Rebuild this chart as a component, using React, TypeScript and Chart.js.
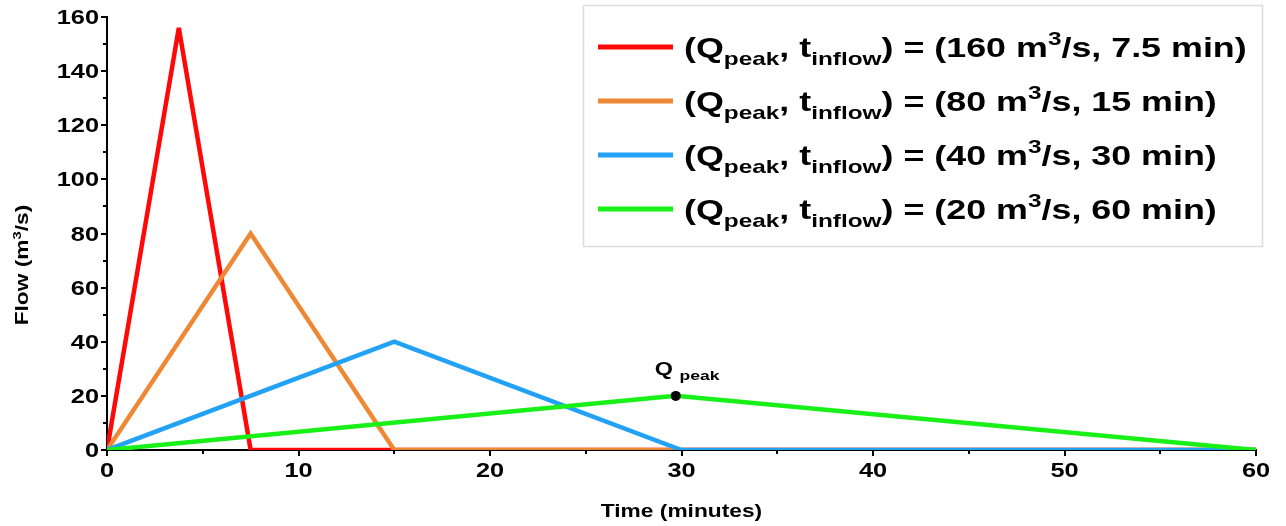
import React, { useEffect, useRef } from 'react';
import { Chart, registerables } from 'chart.js';

Chart.register(...registerables);

// ---- data ----
const redTime = [0, 3.75, 7.5, 60];
const redFlow = [0, 156, 0, 0];
const orangeTime = [0, 7.5, 15, 60];
const orangeFlow = [0, 80, 0, 0];
const blueTime = [0, 15, 30, 60];
const blueFlow = [0, 40, 0, 0];
const greenTime = [0, 29.7, 60];
const greenFlow = [0, 20, 0];

const legendPeaks = ['160', '80', '40', '20'];
const legendInflows = ['7.5', '15', '30', '60'];

const xTicks = [0, 10, 20, 30, 40, 50, 60];
const yTicks = [0, 20, 40, 60, 80, 100, 120, 140, 160];
const xMinorTicks = [5, 15, 25, 35, 45, 55];
const yMinorTicks = [10, 30, 50, 70, 90, 110, 130, 150];

const peakMarkerTime = 29.7;
const peakMarkerFlow = 20;

const seriesColors = ['#ff0808', '#ee8834', '#22a2f6', '#18f018'];

const FAM = "'Liberation Sans', Arial, Helvetica, sans-serif";
const STRETCH = 1.3;

type Seg = { t: string; m?: 'sub' | 'sup' };

function segWidth(ctx: CanvasRenderingContext2D, segs: Seg[], size: number, subScale: number) {
  let w = 0;
  for (const s of segs) {
    const fs = s.m ? size * subScale : size;
    ctx.font = `bold ${fs}px ${FAM}`;
    w += ctx.measureText(s.t).width;
  }
  return w;
}

function drawRich(
  ctx: CanvasRenderingContext2D,
  segs: Seg[],
  x: number,
  y: number,
  size: number,
  align: 'left' | 'center' | 'right' = 'left',
  subScale = 0.65,
  k = STRETCH
) {
  ctx.save();
  ctx.translate(x, y);
  ctx.scale(k, 1);
  const w = segWidth(ctx, segs, size, subScale);
  let cx = align === 'center' ? -w / 2 : align === 'right' ? -w : 0;
  ctx.textAlign = 'left';
  ctx.textBaseline = 'alphabetic';
  ctx.fillStyle = '#000';
  for (const s of segs) {
    const fs = s.m ? size * subScale : size;
    ctx.font = `bold ${fs}px ${FAM}`;
    const dy = s.m === 'sub' ? size * 0.3 : s.m === 'sup' ? -size * 0.42 : 0;
    ctx.fillText(s.t, cx, dy);
    cx += ctx.measureText(s.t).width;
  }
  ctx.restore();
}

const decorPlugin = {
  id: 'decor',
  afterDraw(chart: any) {
    const ctx: CanvasRenderingContext2D = chart.ctx;
    const xs = chart.scales.x;
    const ys = chart.scales.y;
    const area = chart.chartArea;

    // minor ticks
    ctx.save();
    ctx.strokeStyle = '#000';
    ctx.lineWidth = 2;
    ctx.beginPath();
    for (const v of xMinorTicks) {
      const px = Math.round(xs.getPixelForValue(v));
      ctx.moveTo(px, area.bottom);
      ctx.lineTo(px, area.bottom + 4);
    }
    for (const v of yMinorTicks) {
      const py = Math.round(ys.getPixelForValue(v));
      ctx.moveTo(area.left, py);
      ctx.lineTo(area.left - 4, py);
    }
    ctx.stroke();
    ctx.restore();

    // tick labels
    for (const v of yTicks) {
      const py = ys.getPixelForValue(v);
      drawRich(ctx, [{ t: String(v) }], area.left - 8, py + 7, 19.5, 'right');
    }
    for (const v of xTicks) {
      const px = xs.getPixelForValue(v);
      drawRich(ctx, [{ t: String(v) }], px, area.bottom + 27, 19.5, 'center');
    }

    // axis titles
    drawRich(ctx, [{ t: 'Time (minutes)' }], (area.left + area.right) / 2, 517, 17.5, 'center');
    ctx.save();
    ctx.translate(28, 265);
    ctx.rotate(-Math.PI / 2);
    drawRich(ctx, [{ t: 'Flow (m' }, { t: '3', m: 'sup' }, { t: '/s)' }], 0, 0, 17.5, 'center');
    ctx.restore();

    // Q_peak marker
    const mx = xs.getPixelForValue(peakMarkerTime);
    const my = ys.getPixelForValue(peakMarkerFlow);
    ctx.save();
    ctx.fillStyle = '#000';
    ctx.beginPath();
    ctx.arc(mx, my, 5, 0, Math.PI * 2);
    ctx.fill();
    ctx.restore();
    drawRich(ctx, [{ t: 'Q ' }, { t: 'peak', m: 'sub' }], mx - 21, my - 21, 18, 'left', 0.75);

    // legend box
    const bx = 583, by = 5, bw = 679, bh = 241;
    ctx.save();
    ctx.fillStyle = '#ffffff';
    ctx.fillRect(bx, by, bw, bh);
    ctx.strokeStyle = '#dcdcdc';
    ctx.lineWidth = 1.5;
    ctx.strokeRect(bx + 0.5, by + 0.5, bw, bh);
    ctx.restore();

    chart.data.datasets.forEach((ds: any, i: number) => {
      const rowY = 47 + i * 54;
      ctx.save();
      ctx.strokeStyle = ds.borderColor;
      ctx.lineWidth = 5;
      ctx.beginPath();
      ctx.moveTo(598, rowY);
      ctx.lineTo(673, rowY);
      ctx.stroke();
      ctx.restore();
      drawRich(
        ctx,
        [
          { t: '(Q' },
          { t: 'peak', m: 'sub' },
          { t: ', t' },
          { t: 'inflow', m: 'sub' },
          { t: ') = (' + legendPeaks[i] + ' m' },
          { t: '3', m: 'sup' },
          { t: '/s, ' + legendInflows[i] + ' min)' },
        ],
        684,
        rowY + 10,
        28,
        'left',
        0.68,
        1.28
      );
    });
  },
};

function pts(t: number[], q: number[]) {
  return t.map((x, i) => ({ x, y: q[i] }));
}

export default function App() {
  const ref = useRef<HTMLCanvasElement | null>(null);

  useEffect(() => {
    if (!ref.current) return;
    const mk = (data: any, color: string, order: number, join: CanvasLineJoin) => ({
      data,
      borderColor: color,
      backgroundColor: color,
      borderWidth: 4.5,
      pointRadius: 0,
      fill: false,
      tension: 0,
      order,
      borderJoinStyle: join,
    });
    const chart = new Chart(ref.current, {
      type: 'line',
      data: {
        datasets: [
          mk(pts(redTime, redFlow), seriesColors[0], 3, 'bevel'),
          mk(pts(orangeTime, orangeFlow), seriesColors[1], 2, 'miter'),
          mk(pts(blueTime, blueFlow), seriesColors[2], 1, 'miter'),
          mk(pts(greenTime, greenFlow), seriesColors[3], 0, 'miter'),
        ] as any,
      },
      options: {
        animation: false,
        responsive: true,
        maintainAspectRatio: false,
        layout: { padding: { left: 0, top: 17, right: 30, bottom: 0 } },
        plugins: { legend: { display: false }, tooltip: { enabled: false } },
        scales: {
          x: {
            type: 'linear',
            min: 0,
            max: 60,
            ticks: { display: false, stepSize: 10 },
            grid: { drawOnChartArea: false, drawTicks: true, tickLength: 6, color: '#000', lineWidth: 2 },
            border: { display: true, color: '#000', width: 2 },
            afterFit: (s: any) => {
              s.height = 76;
            },
          },
          y: {
            type: 'linear',
            min: 0,
            max: 160,
            ticks: { display: false, stepSize: 20 },
            grid: { drawOnChartArea: false, drawTicks: true, tickLength: 6, color: '#000', lineWidth: 2 },
            border: { display: true, color: '#000', width: 2 },
            afterFit: (s: any) => {
              s.width = 107;
            },
          },
        },
      } as any,
      plugins: [decorPlugin],
    });
    return () => chart.destroy();
  }, []);

  return (
    <div style={{ position: 'fixed', left: 0, top: 0, width: 1286, height: 526, background: '#fff' }}>
      <canvas ref={ref} />
    </div>
  );
}
